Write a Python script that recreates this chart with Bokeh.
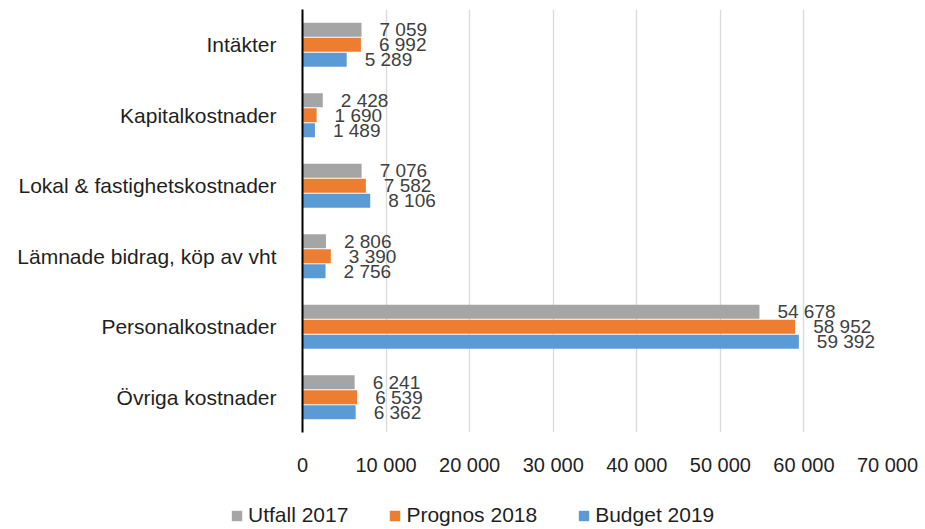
from bokeh.plotting import figure
from bokeh.layouts import column
from bokeh.models import Range1d, FixedTicker, Legend, LegendItem, ColumnDataSource
from bokeh.core.properties import value
from bokeh.embed import file_html
from bokeh.resources import INLINE

categories = ["Intäkter", "Kapitalkostnader", "Lokal & fastighetskostnader",
              "Lämnade bidrag, köp av vht", "Personalkostnader", "Övriga kostnader"]
series_names = ["Utfall 2017", "Prognos 2018", "Budget 2019"]
utfall_2017 = [7059, 2428, 7076, 2806, 54678, 6241]
prognos_2018 = [6992, 1690, 7582, 3390, 58952, 6539]
budget_2019 = [5289, 1489, 8106, 2756, 59392, 6362]
x_ticks = [0, 10000, 20000, 30000, 40000, 50000, 60000, 70000]
x_tick_labels = ["0", "10 000", "20 000", "30 000", "40 000", "50 000", "60 000", "70 000"]

colors = ["#A5A5A5", "#ED7D31", "#5B9BD5"]
offsets = [-0.212, 0.0, 0.212]
FONT = "Liberation Sans"
TXT = "#404040"
DARK = "#1F1F1F"

p = figure(width=925, height=490, output_backend="svg", toolbar_location=None,
           x_range=Range1d(0, 70000), y_range=Range1d(6, 0),
           min_border_left=302, min_border_right=38, min_border_top=9, min_border_bottom=58)
p.outline_line_color = None
p.background_fill_color = "white"
p.frame_align = False

for vals, col, off in zip([utfall_2017, prognos_2018, budget_2019], colors, offsets):
    ys = [i + 0.5 + off for i in range(len(categories))]
    src = ColumnDataSource(dict(y=ys, right=vals,
                                lbl=[f"{v:,}".replace(",", " ") for v in vals]))
    p.hbar(y="y", left=0, right="right", height=0.2, fill_color=col,
           line_color=None, source=src)
    p.text(x="right", y="y", text="lbl", source=src, x_offset=18,
           text_align="left", text_baseline="middle", text_font=value(FONT),
           text_font_size="19px", text_color=TXT)

# x axis
p.xaxis.ticker = FixedTicker(ticks=x_ticks)
p.xaxis.major_label_overrides = {t: l for t, l in zip(x_ticks, x_tick_labels)}
p.xaxis.axis_line_color = None
p.xaxis.major_tick_line_color = None
p.xaxis.minor_tick_line_color = None
p.xaxis.major_label_standoff = 15
p.xaxis.major_label_text_font = FONT
p.xaxis.major_label_text_font_size = "20px"
p.xaxis.major_label_text_color = DARK

# y axis
p.yaxis.ticker = FixedTicker(ticks=[i + 0.5 for i in range(len(categories))])
p.yaxis.major_label_overrides = {i + 0.5: c for i, c in enumerate(categories)}
p.yaxis.axis_line_color = "black"
p.yaxis.axis_line_width = 2
p.yaxis.major_tick_line_color = None
p.yaxis.minor_tick_line_color = None
p.yaxis.major_label_standoff = 20
p.yaxis.major_label_text_font = FONT
p.yaxis.major_label_text_font_size = "21px"
p.yaxis.major_label_text_color = DARK

p.xgrid.grid_line_color = "#D9D9D9"
p.xgrid.grid_line_width = 1.3
p.ygrid.grid_line_color = None

# legend strip
lf = figure(width=925, height=39, output_backend="svg", toolbar_location=None,
            x_range=Range1d(0, 1), y_range=Range1d(0, 1),
            x_axis_type=None, y_axis_type=None,
            min_border_left=0, min_border_right=0, min_border_top=0, min_border_bottom=0)
lf.frame_align = False
lf.outline_line_color = None
lf.grid.grid_line_color = None
leg_renderers = []
for col in colors:
    leg_renderers.append(lf.hbar(y=[0.5], left=[5], right=[6], height=0.2,
                                 fill_color=col, line_color=None))
legend = Legend(items=[LegendItem(label=n, renderers=[r]) for n, r in zip(series_names, leg_renderers)],
                orientation="horizontal", location=(230, 2),
                glyph_width=13, glyph_height=13, label_standoff=5, spacing=40,
                padding=0, margin=0, border_line_alpha=0, background_fill_alpha=0,
                label_text_font=FONT, label_text_font_size="21px", label_text_color=DARK,
                label_height=20)
lf.add_layout(legend)

open("out.html", "w").write(file_html(column(p, lf), INLINE))
